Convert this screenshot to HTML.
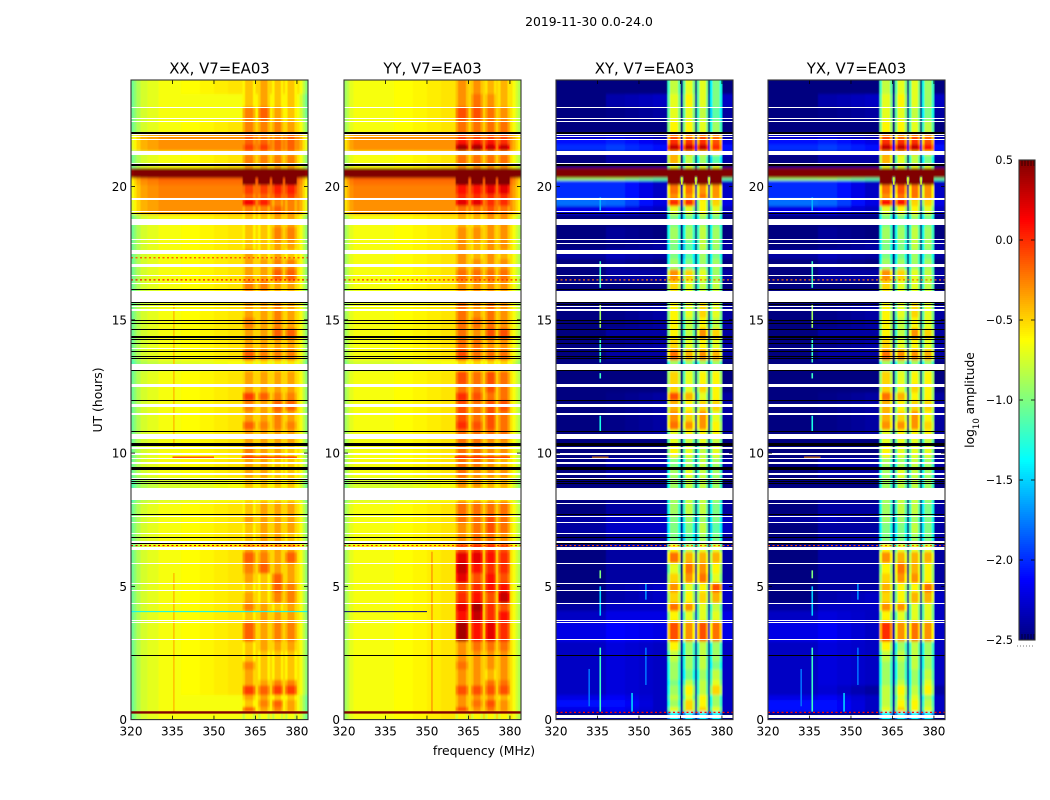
<!DOCTYPE html>
<html lang="en">
<head>
<meta charset="utf-8">
<title>2019-11-30 0.0-24.0</title>
<style>
html,body{margin:0;padding:0;background:#fff;}
svg{display:block;}
text{font-family:"DejaVu Sans","Liberation Sans",sans-serif;fill:#000;}
</style>
</head>
<body>
<svg id="chart" xmlns="http://www.w3.org/2000/svg" width="1050" height="800" viewBox="0 0 1050 800">
  <defs>
    <filter id="heat-blur" x="-5%" y="-2%" width="110%" height="104%"><feGaussianBlur stdDeviation="0.4 1.2"/></filter>
  </defs>
  <rect x="0" y="0" width="1050" height="800" fill="#fff"/>
  <text x="589" y="26" font-size="12.4" text-anchor="middle">2019-11-30 0.0-24.0</text>
  <text x="0" y="0" font-size="12.4" text-anchor="middle" transform="translate(102 400) rotate(-90)">UT (hours)</text>
  <text x="484" y="755" font-size="12.4" text-anchor="middle">frequency (MHz)</text>
  <text x="0" y="0" font-size="12.3" text-anchor="middle" transform="translate(974 400) rotate(-90)">log<tspan font-size="8.5" baseline-shift="sub">10</tspan> amplitude</text>
  <g id="panels"></g>
  <g id="colorbar"></g>
</svg>
<script>
// Shared axes data
const freqTicks = [320, 335, 350, 365, 380];
const hourTicks = [0, 5, 10, 15, 20];
const colorbarTicks = [0.5, 0.0, -0.5, -1.0, -1.5, -2.0, -2.5];
// Frequency bins (MHz)
const freqEdges = [320,321,322,323.5,326,330,338,345,350,355,360.4,361.2,364.2,365,366,366.8,369.4,370.2,371,371.8,374.2,375,375.7,376.5,379.2,380,381,382,383,384];
// Which value of a time row each frequency bin reads: 0 left bg, 1 right bg, 2..5 sub-bands (fractions blend left and right bg)
const binGroup = [0,0,0,0,0,0,0.25,0.5,0.75,1,2,2,2,1,3,3,3,1,4,4,4,1,5,5,5,1,1,1,1];
// Time row start hours
const rowHours = [0,.3,.5,.75,.95,1.3,1.5,1.9,2.2,2.6,2.95,3.7,4.1,4.4,4.8,5.15,5.5,5.9,6.3,6.6,7,7.4,7.7,8.2,8.7,9.1,9.5,9.85,10.3,10.55,10.9,11.2,11.6,12,12.3,12.6,13.1,13.5,13.9,14.3,14.7,15.1,15.65,16.1,16.5,16.9,17.3,17.65,18,18.5,18.97,19.3,19.55,19.75,20.07,20.25,20.35,20.72,20.85,21.2,21.35,21.6,21.8,22,22.5,23,23.5];
// Amplitudes in tenths of log10: [left bg, right bg, band1, band2, band3, band4]
const xxRows = [
[-6,-6,-6,-6,-6,-6],[-6,-6,-1,-3,-2,-3],[-6,-6,-4,-2,-1,-3],[-6,-6,-3,-3,-4,-4],[-6,-5,0,-1,0,0],
[-6,-5,-3,-3,-2,-2],[-6,-5,-3,-4,-4,-4],[-6,-5,-2,-4,-4,-4],[-6,-5,-4,-4,-4,-4],[-6,-5,-4,-3,-3,-3],
[-6,-5,-1,-3,-2,-2],[-6,-5,-4,-3,-3,-3],[-6,-5,-2,-3,-4,-3],[-6,-5,-3,-4,-2,-2],[-6,-5,-4,-4,-1,-2],
[-6,-5,-3,-4,-1,-3],[-6,-5,-2,-1,-3,-3],[-6,-5,-1,-2,-3,-1],[-6,-5,-3,-3,-3,-3],[-6,-5,-4,-3,-3,-4],
[-6,-5,-4,-3,-3,-3],[-6,-5,-3,-3,-3,-3],[-6,-5,-4,-3,-3,-3],[-7,-6,-5,-5,-5,-5],[-7,-6,-4,-4,-4,-4],
[-6,-5,-3,-3,-4,-4],[-6,-5,-3,-3,-4,-4],[-6,-5,-2,-3,-3,-4],[-6,-5,-3,-3,-3,-3],[-6,-5,-3,-3,-3,-3],
[-6,-5,-1,-2,-2,-2],[-6,-5,-3,-3,-2,-3],[-6,-5,-2,-3,-1,-1],[-6,-5,0,-1,-2,-2],[-6,-5,-3,-3,-3,-3],
[-6,-5,-3,-3,-3,-3],[-7,-6,-5,-5,-5,-5],[-6,-5,-1,-2,-2,-2],[-6,-5,-3,-3,-3,-3],[-6,-5,-3,-3,-1,-1],
[-6,-5,-2,-3,-2,-3],[-6,-5,-3,-3,-2,-3],[-7,-6,-3,-3,-4,-4],[-6,-5,-2,-2,-3,-3],[-6,-5,-3,-3,-1,-1],
[-6,-5,-3,-3,-2,-2],[-6,-5,-3,-4,-3,-4],[-6,-5,-4,-4,-3,-3],[-6,-5,-4,-4,-2,-2],[-6,-5,-4,-4,-3,-3],
[-2.5,-2.5,-2,-2,-1,-2],[-2.5,-2.5,2,1,-2,-2],[-2,-2,-1,-1,0,0],[-2,-2,0,0,1,1],[-1.5,-1.5,9,9,9,9],
[-1,-1,9,9,9,9],[9,9,9,9,9,9],[-6,-5,-3,-3,-3,-3],[-6,-5,-2,-2,-2,-2],[-6,-5,-3,-3,-3,-3],
[-2.5,-2.5,0,0,-1,-1],[-2.5,-2.5,-1,-1,-1,-1],[-2.5,-2.5,-1,-2,-2,-1],[-6,-5,-2,-2,-2,-3],[-6,-6,-2,-1,-3,-4],
[-6,-6,-4,-3,-4,-4],[-6,-5,-4,-3,-4,-4]];
const yyRows = [
[-6,-5,-6,-6,-6,-6],[-6,-5,-1,-3,-2,-3],[-6,-5,-3,-2,-1,-3],[-6,-5,-3,-3,-3,-4],[-6,-5,-1,-1,-1,-1],
[-6,-5,-3,-3,-2,-2],[-6,-5,-3,-3,-4,-3],[-6,-5,-2,-3,-3,-3],[-6,-5,-3,-3,-3,-3],[-6,-5,-3,-2,-2,-2],
[-6,-5,4,1,2,0],[-6,-5,1,3,0,1],[-6,-5,2,4,0,-1],[-6,-5,0,1,-1,3],[-6,-5,-1,0,1,1],
[-6,-5,2,-1,1,-1],[-6,-5,3,1,0,0],[-6,-5,2,2,1,0],[-6,-5,-1,0,0,-1],[-6,-5,-3,-2,-2,-3],
[-6,-5,-3,-2,-1,-2],[-6,-5,-2,-2,-1,-2],[-6,-5,-2,-2,-2,-2],[-7,-6,-5,-5,-5,-5],[-7,-6,-3,-3,-4,-4],
[-6,-5,-2,-3,-3,-3],[-6,-5,-2,-2,-3,-4],[-6,-5,-2,-2,-3,-3],[-6,-5,-2,-2,-3,-3],[-6,-5,-2,-2,-2,-2],
[-6,-5,0,-1,-1,-2],[-6,-5,-1,-2,-1,-2],[-6,-5,-1,-2,-1,-1],[-6,-5,0,-1,-2,-2],[-6,-5,-2,-2,-1,-2],
[-6,-5,-1,-2,-1,-2],[-7,-6,-5,-5,-5,-5],[-6,-5,-1,-2,-2,-2],[-6,-5,-2,-2,-3,-3],[-6,-5,-2,-3,-1,-1],
[-6,-5,-2,-2,-2,-3],[-6,-5,-2,-3,-2,-3],[-7,-6,-3,-3,-3,-4],[-6,-5,-3,-3,-3,-3],[-6,-5,-2,-2,-2,-2],
[-6,-5,-3,-3,-3,-3],[-6,-5,-3,-4,-3,-4],[-6,-5,-3,-4,-3,-3],[-6,-5,-3,-3,-3,-3],[-6,-5,-4,-4,-3,-3],
[-2.5,-2.5,-2,-2,-1,-2],[-2.5,-2.5,2,2,0,0],[-2,-2,0,0,0,0],[-2,-2,1,1,2,2],[-1.5,-1.5,9,9,9,9],
[-1,-1,9,9,9,9],[9,9,9,9,9,9],[-6,-5,-3,-3,-3,-3],[-6,-5,-2,-2,-2,-2],[-6,-5,-3,-3,-3,-3],
[-2.5,-2.5,4,4,3,3],[-2.5,-2.5,1,1,1,0],[-2.5,-2.5,-1,-1,-1,-1],[-6,-5,-2,-2,-2,-2],[-6,-5,-1,-1,-2,-3],
[-6,-5,-3,-2,-3,-4],[-6,-5,-3,-3,-4,-4]];
const xyRows = [
[-24,-25,-14,-14,-14,-14],[-21,-23,-7,-5,-5,-7],[-20,-23,-9,-5,-6,-9],[-21,-23,-8,-7,-6,-9],[-22,-23,-9,-6,-8,-5],
[-22,-23,-10,-8,-8,-7],[-22,-23,-9,-10,-9,-8],[-22,-23,-9,-9,-8,-10],[-22,-23,-8,-9,-8,-9],[-22,-23,-6,-9,-8,-9],
[-21,-22,-1,-3,-1,-2],[-22,-22,-6,-7,-7,-7],[-23,-23,-2,-3,-7,-8],[-24,-23,-5,-6,-5,-4],[-24,-23,-3,-7,-6,-1],
[-24,-24,-5,-3,-2,-7],[-24,-24,-7,-2,-3,-6],[-24,-24,-2,-4,-4,-4],[-24,-24,-6,-8,-7,-7],[-24,-24,-10,-11,-9,-10],
[-23,-23,-10,-10,-8,-11],[-23,-23,-10,-9,-9,-10],[-24,-24,-9,-8,-8,-10],[-25,-25,-9,-8,-8,-9],[-25,-25,-9,-8,-8,-9],
[-24,-24,-9,-7,-8,-9],[-24,-24,-10,-9,-8,-9],[-25,-25,-6,-7,-8,-7],[-25,-25,-7,-8,-7,-8],[-25,-24,-7,-6,-6,-6],
[-25,-24,-2,-3,-3,-6],[-25,-24,-3,-5,-3,-7],[-25,-24,-4,-6,-5,-5],[-25,-24,-1,-4,-7,-6],[-25,-25,-5,-7,-5,-6],
[-25,-25,-5,-7,-6,-6],[-25,-25,-9,-9,-9,-9],[-24,-24,-2,-4,-3,-4],[-25,-24,-5,-7,-6,-7],[-24,-24,-6,-8,-3,-5],
[-25,-24,-6,-8,-6,-8],[-25,-24,-6,-7,-5,-7],[-24,-25,-7,-7,-7,-7],[-25,-25,-5,-7,-8,-8],[-24,-24,-3,-5,-7,-9],
[-24,-25,-9,-10,-9,-9],[-23,-24,-10,-11,-9,-10],[-25,-24,-10,-11,-8,-9],[-24,-25,-9,-9,-8,-9],[-25,-25,-10,-10,-9,-10],
[-21,-23,-7,-7,-6,-7],[-17,-22,0,0,-6,-5],[-19,-23,-3,-3,-2,-3],[-19,-23,-2,-2,-3,-3],[-19,-23,9,9,9,9],
[-8,-11,9,9,9,9],[9,6,9,9,9,9],[-25,-25,-7,-7,-7,-7],[-24,-24,-4,-8,-9,-11],[-23,-22,-4,-4,-5,-6],
[-19,-21,3,3,3,0],[-20,-22,0,0,0,-1],[-22,-24,-1,-2,-1,-2],[-25,-25,-6,-6,-7,-9],[-25,-24,-7,-7,-8,-11],
[-24,-23,-7,-6,-7,-10],[-25,-25,-8,-7,-7,-10]];
const yxRows = [
[-24,-25,-14,-14,-14,-14],[-20,-23,-7,-5,-6,-7],[-20,-23,-8,-6,-6,-8],[-21,-23,-8,-7,-7,-9],[-22,-24,-8,-6,-8,-6],
[-22,-23,-9,-8,-9,-7],[-22,-23,-9,-9,-9,-8],[-22,-23,-9,-9,-8,-9],[-22,-23,-8,-8,-8,-9],[-22,-23,-6,-9,-8,-9],
[-21,-23,0,-3,-2,-3],[-22,-23,-6,-7,-7,-7],[-23,-23,-3,-3,-7,-7],[-24,-23,-5,-6,-4,-4],[-24,-24,-4,-6,-6,-2],
[-24,-24,-5,-3,-3,-6],[-24,-24,-6,-2,-4,-6],[-24,-24,-3,-4,-4,-4],[-24,-24,-6,-7,-7,-7],[-24,-24,-10,-10,-9,-10],
[-24,-24,-10,-10,-8,-10],[-23,-24,-9,-9,-9,-10],[-24,-24,-9,-8,-8,-10],[-25,-25,-9,-8,-8,-9],[-25,-25,-9,-8,-8,-9],
[-24,-24,-9,-7,-8,-9],[-24,-24,-9,-9,-8,-9],[-25,-25,-6,-7,-7,-7],[-25,-25,-7,-7,-7,-8],[-25,-24,-7,-6,-6,-6],
[-25,-24,-3,-3,-3,-5],[-25,-24,-4,-5,-3,-6],[-25,-24,-4,-6,-5,-5],[-25,-24,-2,-4,-6,-6],[-25,-25,-5,-7,-5,-6],
[-25,-25,-5,-7,-6,-6],[-25,-25,-9,-9,-9,-9],[-24,-24,-2,-3,-3,-4],[-25,-24,-5,-7,-6,-7],[-24,-24,-6,-8,-3,-5],
[-25,-24,-6,-8,-6,-7],[-25,-24,-6,-7,-5,-7],[-24,-25,-7,-7,-7,-7],[-25,-25,-5,-7,-7,-8],[-24,-24,-3,-5,-7,-8],
[-24,-25,-9,-9,-9,-9],[-23,-24,-10,-10,-9,-10],[-25,-24,-10,-10,-8,-9],[-24,-25,-9,-9,-8,-9],[-25,-25,-10,-10,-9,-10],
[-21,-23,-7,-6,-6,-7],[-17,-22,1,1,-5,-5],[-19,-23,-3,-2,-2,-3],[-19,-23,-2,-1,-2,-3],[-19,-23,9,9,9,9],
[-8,-11,9,9,9,9],[9,6,9,9,9,9],[-25,-25,-7,-7,-7,-7],[-24,-24,-4,-7,-8,-10],[-23,-22,-4,-4,-5,-6],
[-19,-21,3,3,3,1],[-20,-22,0,0,0,-1],[-22,-24,-1,-2,-1,-2],[-25,-25,-6,-6,-7,-8],[-25,-24,-7,-7,-8,-10],
[-24,-23,-7,-6,-7,-9],[-25,-25,-8,-7,-7,-9]];
// Per-frequency-bin offsets (tenths of log10)
const xxProfile = [-4.5,-3.5,-2.5,-1.5,-1,-0.5,-0.5,-0.5,-0.5,-0.5,-2,-0.5,-2,0,-2,-0.5,-2,0,-2,-0.5,-2,0,-2,-0.5,-2,-0.5,-1.5,-3,-4.5];
const yyProfile = [-3,-2,-1,-0.5,-0.5,-0.5,-0.5,-0.5,-0.5,-0.5,-1.5,0,-1.5,0,-1.5,0,-1.5,0,-1.5,0,-1.5,0,-1.5,0,-1.5,-0.5,-1.5,-2.5,-3.5];
const xyProfile = [-1,-1,-1,-1,-1,-1,0,0,0,0,-4,0,-3,-1,-4,0,-3,-1,-4,0,-3,-1,-4,0,-3,0,0,0,0];
const yxProfile = [-1,-1,-1,-1,-1,-1,0,0,0,0,-4,0,-3,-1,-4,0,-3,-1,-4,0,-3,-1,-4,0,-3,0,0,0,0];
// Vertical spikes: [MHz, start hour, end hour, tenths]
const xxSpikes = [[335.5,0.3,5.5,-4.5],[335.5,10.2,15.6,-4.5]];
const yySpikes = [[351.8,0.3,6.3,-3.5]];
const xySpikes = [[336,0.3,2.7,-12],[336,3.9,5,-15],[336,5.3,5.6,-10],[336,10.8,11.4,-13],[336,12.8,13,-12],[336,13.4,14.3,-12],[336,14.7,15.6,-9],[336,16.2,17.2,-12],[336,19.1,19.6,-16],[352.5,4.5,5.1,-17],[352.5,1.3,2.7,-18],[332,0.5,1.9,-18],[347.5,0.3,1,-15],[365.5,20.07,20.35,-7],[370.6,20.07,20.35,-7],[375.35,20.07,20.35,-7]];
const yxSpikes = [[336,0.3,2.7,-12],[336,3.9,5,-15],[336,5.3,5.6,-10],[336,10.8,11.4,-13],[336,12.8,13,-12],[336,13.4,14.3,-12],[336,14.7,15.6,-9],[336,16.2,17.2,-12],[336,19.1,19.6,-16],[352.5,4.5,5.1,-17],[352.5,1.3,2.7,-18],[332,0.5,1.9,-18],[347.5,0.3,1,-15],[365.5,20.07,20.35,-7],[370.6,20.07,20.35,-7],[375.35,20.07,20.35,-7]];
// Horizontal solid traces: [hour, tenths, MHz from, MHz to]
const xxLines = [[0.27,9,320,384],[4.05,-14,320,384],[9.85,1,335,350],[9.85,1,360,380]];
const yyLines = [[0.27,9,320,384],[4.05,-25,320,350],[9.85,1,360,380]];
const xyLines = [[9.85,-3,333,339]];
const yxLines = [[9.85,-3,333,339]];
// Horizontal dotted traces: [hour, tenths, MHz from, MHz to]
const xxDotted = [[16.5,1,320,384],[17.33,-1,320,384],[6.53,2,320,384]];
const yyDotted = [[16.5,0,320,384],[6.53,0,320,384]];
const xyDotted = [[0.27,1,320,384],[16.5,-2,320,384],[6.53,-1,320,384]];
const yxDotted = [[0.27,1,320,384],[16.5,-2,320,384],[6.53,-1,320,384]];
// No-data spans in hours
const whiteSpans = [[2.98,3.03],[3.62,3.67],[3.70,3.75],[4.33,4.38],[4.82,4.87],[5.08,5.13],[5.83,5.88],[6.38,6.48],[6.63,6.71],[6.96,7.0],[7.37,7.41],[7.6,7.65],[8.08,8.13],[8.23,8.68],[9.03,9.08],[9.18,9.24],[9.6,9.66],[9.75,9.8],[9.93,10.0],[10.14,10.22],[10.52,10.7],[11.43,11.5],[11.74,11.84],[12.5,12.6],[13.11,13.33],[13.9,13.95],[15.34,15.4],[15.47,15.52],[15.67,16.1],[16.34,16.39],[16.62,16.67],[17.0,17.1],[17.48,17.63],[17.83,17.88],[18.0,18.05],[18.55,18.77],[19.05,19.1],[19.52,19.58],[20.85,20.9],[21.2,21.35],[21.73,21.78],[21.83,21.88],[21.93,21.97],[22.43,22.48],[22.52,22.57],[22.95,23.0]];
const blackSpans = [[2.38,2.42],[6.57,6.61],[6.8,6.85],[7.68,7.73],[8.83,8.87],[8.9,8.94],[8.97,9.02],[9.39,9.49],[10.28,10.38],[10.77,10.82],[11.95,12.0],[13.07,13.11],[13.5,13.55],[13.58,13.63],[13.78,13.83],[14.08,14.12],[14.22,14.27],[14.3,14.38],[14.6,14.65],[14.86,14.9],[14.93,14.98],[15.55,15.6],[15.62,15.67],[16.1,16.15],[18.95,19.0],[20.78,20.85],[21.99,22.05]];
const crossWhiteSpans = [[0.05,0.17]];

const panelLefts = {xx:131, yy:344, xy:556, yx:768};
const PLOT_W = 177, PLOT_TOP = 80, PLOT_BOTTOM = 719.6;
const NS = 'http://www.w3.org/2000/svg';

function xScale(panel, mhz){ return panelLefts[panel] + (mhz - 320) * PLOT_W / 64; }
function yScale(hour){ return PLOT_BOTTOM - hour * (PLOT_BOTTOM - PLOT_TOP) / 24; }
function clamp01(a){ return Math.max(0, Math.min(1, a)); }
function jet(tenths){
  const t = clamp01((tenths / 10 + 2.5) / 3);
  const r = clamp01(Math.min(4 * t - 1.5, -4 * t + 4.5));
  const g = clamp01(Math.min(4 * t - 0.5, -4 * t + 3.5));
  const b = clamp01(Math.min(4 * t + 0.5, -4 * t + 2.5));
  return 'rgb(' + Math.round(r * 255) + ',' + Math.round(g * 255) + ',' + Math.round(b * 255) + ')';
}
function rowValue(row, group){
  const lo = Math.floor(group), frac = group - lo;
  return frac === 0 ? row[lo] : row[lo] * (1 - frac) + row[lo + 1] * frac;
}
function mk(parent, tag, attrs){
  const el = document.createElementNS(NS, tag);
  for (const k in attrs) el.setAttribute(k, attrs[k]);
  parent.appendChild(el);
  return el;
}

function drawPanel(root, id, title, rows, profile, spikes, lines, dotted, extraWhite){
  const left = panelLefts[id];
  const g = mk(root, 'g', {});
  
  
  const clip = mk(g, 'clipPath', {id: 'clip-' + id});
  mk(clip, 'rect', {x: left, y: PLOT_TOP, width: PLOT_W, height: PLOT_BOTTOM - PLOT_TOP});
  const clipped = mk(g, 'g', {'clip-path': 'url(#clip-' + id + ')'});
  
  
  const heat = mk(clipped, 'g', {filter: 'url(#heat-blur)', 'shape-rendering': 'crispEdges'});
  
  
  rows.forEach(function(row, r){
    const hourFrom = rowHours[r];
    const hourTo = r + 1 < rowHours.length ? rowHours[r + 1] : 24;
    const yTop = yScale(hourTo) - (r === rows.length - 1 ? 4 : 0);
    const yBot = yScale(hourFrom) + (r === 0 ? 4 : 0);
    binGroup.forEach(function(group, c){
      const x0 = xScale(id, freqEdges[c]) - (c === 0 ? 4 : 0);
      const x1 = xScale(id, freqEdges[c + 1]) + (c === binGroup.length - 1 ? 4 : 0);
      const cell = mk(heat, 'rect', {x: x0, y: yTop, width: x1 - x0 + 0.5, height: yBot - yTop + 0.5, fill: jet(rowValue(row, group) + profile[c])});
      
      
    });
  });
  spikes.forEach(function(s){
    const el = mk(clipped, 'rect', {x: xScale(id, s[0]) - 0.8, y: yScale(s[2]), width: 1.6, height: yScale(s[1]) - yScale(s[2]), fill: jet(s[3])});
    
    
  });
  lines.forEach(function(l){
    const el = mk(clipped, 'line', {x1: xScale(id, l[2]), x2: xScale(id, l[3]), y1: yScale(l[0]), y2: yScale(l[0]), stroke: jet(l[1]), 'stroke-width': l[1] > 5 ? 2.4 : 1});
    
    
  });
  dotted.forEach(function(l){
    const el = mk(clipped, 'line', {x1: xScale(id, l[2]), x2: xScale(id, l[3]), y1: yScale(l[0]), y2: yScale(l[0]), stroke: jet(l[1]), 'stroke-width': 1.2, 'stroke-dasharray': '2 2.5'});
    
    
  });
  const spanG = mk(clipped, 'g', {'shape-rendering': 'crispEdges'});
  
  
  whiteSpans.concat(extraWhite).forEach(function(s){
    const h = Math.max(1, Math.round(yScale(s[0]) - yScale(s[1])));
    const el = mk(spanG, 'rect', {x: left, y: Math.round(yScale(s[1])), width: PLOT_W, height: h, fill: '#fff'});
    
    
  });
  blackSpans.forEach(function(s){
    const h = Math.max(1, Math.round(yScale(s[0]) - yScale(s[1])));
    const el = mk(spanG, 'rect', {x: left, y: Math.round(yScale(s[1])), width: PLOT_W, height: h, fill: '#000'});
    
    
  });
  // ticks and labels
  freqTicks.forEach(function(f){
    const x = xScale(id, f);
    const t1 = mk(g, 'line', {x1: x, x2: x, y1: PLOT_TOP, y2: PLOT_TOP + 4, stroke: '#000', 'stroke-width': 0.8});
    
    
    const t2 = mk(g, 'line', {x1: x, x2: x, y1: PLOT_BOTTOM, y2: PLOT_BOTTOM - 4, stroke: '#000', 'stroke-width': 0.8});
    
    
    const lab = mk(g, 'text', {x: x, y: 735.5, 'font-size': 12, 'text-anchor': 'middle'});
    
    
    lab.textContent = String(f);
  });
  hourTicks.forEach(function(h){
    const y = yScale(h);
    const t1 = mk(g, 'line', {x1: left, x2: left + 4, y1: y, y2: y, stroke: '#000', 'stroke-width': 0.8});
    
    
    const t2 = mk(g, 'line', {x1: left + PLOT_W, x2: left + PLOT_W - 4, y1: y, y2: y, stroke: '#000', 'stroke-width': 0.8});
    
    
    const lab = mk(g, 'text', {x: left - 4, y: y + 4.5, 'font-size': 12, 'text-anchor': 'end'});
    
    
    lab.textContent = String(h);
  });
  const frame = mk(g, 'rect', {x: left, y: PLOT_TOP, width: PLOT_W, height: PLOT_BOTTOM - PLOT_TOP, fill: 'none', stroke: '#333', 'stroke-width': 1.1});
  
  
  const ttl = mk(g, 'text', {x: left + PLOT_W / 2, y: 73.5, 'font-size': 14.9, 'text-anchor': 'middle'});
  
  
  ttl.textContent = title;
}

const panelsRoot = document.getElementById('panels');
drawPanel(panelsRoot, 'xx', 'XX, V7=EA03', xxRows, xxProfile, xxSpikes, xxLines, xxDotted, []);
drawPanel(panelsRoot, 'yy', 'YY, V7=EA03', yyRows, yyProfile, yySpikes, yyLines, yyDotted, []);
drawPanel(panelsRoot, 'xy', 'XY, V7=EA03', xyRows, xyProfile, xySpikes, xyLines, xyDotted, crossWhiteSpans);
drawPanel(panelsRoot, 'yx', 'YX, V7=EA03', yxRows, yxProfile, yxSpikes, yxLines, yxDotted, crossWhiteSpans);

// Colorbar
const CB = {left: 1019, right: 1035, top: 160, bottom: 640};
function cbY(logValue){ return CB.bottom - (logValue + 2.5) / 3 * (CB.bottom - CB.top); }
const cbRoot = document.getElementById('colorbar');
const cbCells = mk(cbRoot, 'g', {'shape-rendering': 'crispEdges'});


for (let py = CB.top; py < CB.bottom; py += 2) {
  const v = -2.5 + (CB.bottom - py - 1) / (CB.bottom - CB.top) * 3;
  const step = mk(cbCells, 'rect', {x: CB.left, y: py, width: CB.right - CB.left, height: 2, fill: jet(v * 10)});
  
  
}
colorbarTicks.forEach(function(v){
  const y = cbY(v);
  const l1 = mk(cbRoot, 'line', {x1: CB.left, x2: CB.left + 4, y1: y, y2: y, stroke: '#000', 'stroke-width': 0.8});
  
  
  const l2 = mk(cbRoot, 'line', {x1: CB.right, x2: CB.right - 4, y1: y, y2: y, stroke: '#000', 'stroke-width': 0.8});
  
  
  const lab = mk(cbRoot, 'text', {x: 1013, y: y + 4, 'font-size': 11.2, 'text-anchor': 'end'});
  
  
  lab.textContent = v.toFixed(1).replace('-', '\u2212');
});
[1022, 1025, 1028, 1031, 1034].forEach(function(x){
  const t = mk(cbRoot, 'line', {x1: x, x2: x, y1: CB.top, y2: CB.top + 6, stroke: '#000', 'stroke-width': 0.6});
  
  
  const b = mk(cbRoot, 'line', {x1: x, x2: x, y1: CB.bottom, y2: CB.bottom - 6, stroke: '#000', 'stroke-width': 0.6});
  
  
});
const cbFrame = mk(cbRoot, 'rect', {x: CB.left, y: CB.top, width: CB.right - CB.left, height: CB.bottom - CB.top, fill: 'none', stroke: '#333', 'stroke-width': 1.1});


const cbDots = mk(cbRoot, 'line', {x1: 1017, x2: 1035, y1: 646, y2: 646, stroke: '#777', 'stroke-width': 1, 'stroke-dasharray': '1 2'});


</script>
</body>
</html>
